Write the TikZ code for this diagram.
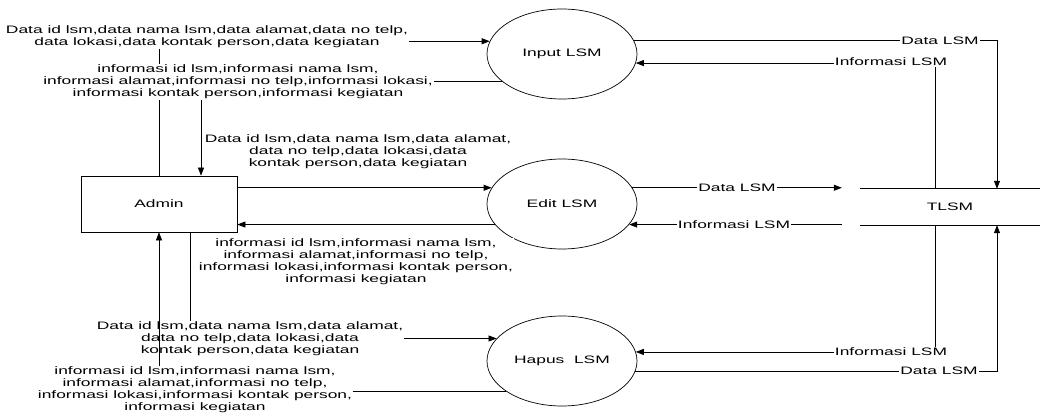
\documentclass[tikz,border=0pt]{standalone}
\usepackage{fontspec}
\newfontfamily\arialw{Liberation Sans}[FakeStretch=1.61]
\usetikzlibrary{arrows.meta,shapes.geometric}
\begin{document}
\begin{tikzpicture}[x=1pt,y=-1pt,
  every node/.style={font=\arialw\fontsize{10.8}{12}\selectfont},
  proc/.style={draw,ellipse,minimum width=150pt,minimum height=90pt,inner sep=0pt,line width=0.7pt},
  ent/.style={draw,rectangle,minimum width=156pt,minimum height=56pt,line width=0.7pt},
  flow/.style={line width=0.7pt},
  arr/.style={flow,-{Triangle[length=8pt,width=6pt]}},
  lbl/.style={fill=white,inner sep=1pt,align=center},
  ]
\useasboundingbox (0,0) rectangle (1040,414);
% nodes
\node[ent] (admin) at (159,204) {Admin};
\node[proc] (input) at (562,54) {Input LSM};
\node[proc] (edit) at (562,204) {Edit LSM};
\node[proc] (hapus) at (562,361) {Hapus\ \ LSM};
\node[minimum width=180pt,minimum height=36pt,inner sep=0pt] (tlsm) at (950,207) {TLSM};
\draw[flow] (tlsm.north west) -- (tlsm.north east) (tlsm.south west) -- (tlsm.south east);
\coordinate (tw) at ([xshift=-18pt]tlsm.west);
% Admin <-> Input
\draw[arr] (admin.north) |- (input.170);
\draw[arr] (input.205) -| ([xshift=42pt]admin.north);
% Admin <-> Edit
\draw[arr] (admin.east |- edit.167) -- (edit.167);
\draw[arr] (edit.197) -- (admin.east |- edit.197);
% Edit <-> TLSM
\coordinate (tin) at (tw |- edit.13);
\coordinate (tout) at (tw |- edit.343);
\draw[arr] (edit.13) -- (tin);
\draw[arr] (tout) -- (edit.343);
% Input <-> TLSM
\draw[arr] (input.11) -| ([xshift=47pt]tlsm.north);
\draw[arr] ([xshift=-15pt]tlsm.north) |- (input.353);
% Hapus <-> TLSM
\draw[arr] ([xshift=-15pt]tlsm.south) |- (hapus.7);
\draw[arr] (hapus.352) -| ([xshift=47pt]tlsm.south);
% Admin -> Hapus
\draw[arr] ([xshift=31pt]admin.south) |- (hapus.161);
\node[lbl] (l5) at (250,339) {Data id lsm,data nama lsm,data alamat,\\data no telp,data lokasi,data\\kontak person,data kegiatan};
% Hapus -> Admin
\draw[arr] (hapus.208) -| (admin.south);
% labels
\node[lbl] (l1) at (207,37) {Data id lsm,data nama lsm,data alamat,data no telp,\\data lokasi,data kontak person,data kegiatan};
\node[lbl] (l2) at (238,82) {informasi id lsm,informasi nama lsm,\\informasi alamat,informasi no telp,informasi lokasi,\\informasi kontak person,informasi kegiatan};
\node[lbl] (l3) at (358,152) {Data id lsm,data nama lsm,data alamat,\\data no telp,data lokasi,data\\kontak person,data kegiatan};
\node[lbl] (l4) at (356,262) {informasi id lsm,informasi nama lsm,\\informasi alamat,informasi no telp,\\informasi lokasi,informasi kontak person,\\informasi kegiatan};
\node[lbl] (l6) at (195,390) {informasi id lsm,informasi nama lsm,\\informasi alamat,informasi no telp,\\informasi lokasi,informasi kontak person,\\informasi kegiatan};
\node[lbl] (l7) at (940,41) {Data LSM};
\node[lbl] (l8) at (891,62) {Informasi LSM};
\node[lbl] (l9) at (737,188) {Data LSM};
\node[lbl] (l10) at (734,225) {Informasi LSM};
\node[lbl] (l11) at (891,352) {Informasi LSM};
\node[lbl] (l12) at (939,371) {Data LSM};
\end{tikzpicture}
\end{document}
